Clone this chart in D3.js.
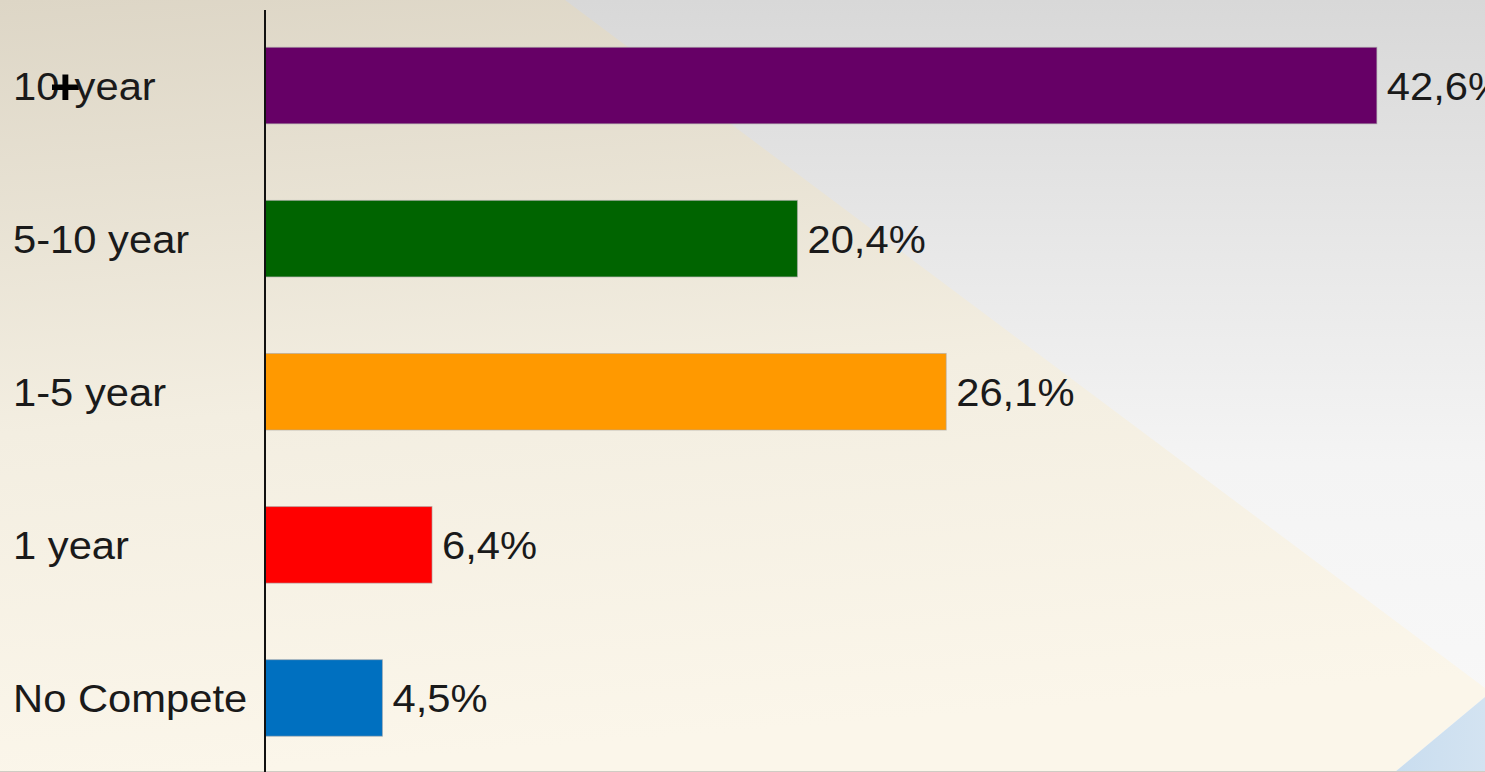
<!DOCTYPE html>
<html><head><meta charset="utf-8">
<script src="https://cdn.jsdelivr.net/npm/d3@7"></script>
<style>html,body{margin:0;padding:0;overflow:hidden;}svg{display:block;}</style>
</head><body>
<svg id="c" width="1485" height="772"></svg>
<script>
const categories = ["10+year", "5-10 year", "1-5 year", "1 year", "No Compete"];
const values = [42.6, 20.4, 26.1, 6.4, 4.5];
const valueLabels = ["42,6%", "20,4%", "26,1%", "6,4%", "4,5%"];
const colors = ["#660066", "#006400", "#FF9900", "#FF0000", "#0070C0"];

const W = 1485, H = 772;
const svg = d3.select("#c");
const defs = svg.append("defs");

const gBeige = defs.append("linearGradient").attr("id","gBeige").attr("x1","0").attr("y1","0").attr("x2","0.15").attr("y2","1");
gBeige.append("stop").attr("offset","0").attr("stop-color","#ddd6c6");
gBeige.append("stop").attr("offset","0.55").attr("stop-color","#f3eee1");
gBeige.append("stop").attr("offset","1").attr("stop-color","#fbf6ea");
const gGray = defs.append("linearGradient").attr("id","gGray").attr("x1","0").attr("y1","0").attr("x2","0").attr("y2","1");
gGray.append("stop").attr("offset","0").attr("stop-color","#d8d8d8");
gGray.append("stop").attr("offset","0.33").attr("stop-color","#e8e8e8");
gGray.append("stop").attr("offset","0.6").attr("stop-color","#f4f4f4");
gGray.append("stop").attr("offset","1").attr("stop-color","#f9f9f9");
const gBlue = defs.append("linearGradient").attr("id","gBlue").attr("x1","0").attr("y1","0").attr("x2","1").attr("y2","0");
gBlue.append("stop").attr("offset","0").attr("stop-color","#c9ddef");
gBlue.append("stop").attr("offset","1").attr("stop-color","#d3e3f1");

svg.append("rect").attr("width",W).attr("height",H).attr("fill","url(#gGray)");
svg.append("path").attr("d",`M0,0 L565,0 L${W},688 L${W},697 L1395,${H} L0,${H} Z`).attr("fill","url(#gBeige)");
svg.append("path").attr("d",`M${W},697 L1395,${H} L${W},${H} Z`).attr("fill","url(#gBlue)");
svg.append("line").attr("x1",0).attr("x2",W).attr("y1",H-0.5).attr("y2",H-0.5).attr("stroke","#d0ccc4").attr("stroke-width",1);

const x = d3.scaleLinear().domain([0, 50]).range([265, 265 + 50*26.1]);
const y = d3.scaleBand().domain(categories).range([9, 774.5]).paddingInner(0.5).paddingOuter(0.25);

const rows = categories.map((c,i)=>({c, v: values[i], lab: valueLabels[i], col: colors[i]}));

svg.append("g").selectAll("rect").data(rows).join("rect")
  .attr("x", x(0)).attr("y", d=>y(d.c))
  .attr("width", d=>x(d.v)-x(0)).attr("height", y.bandwidth())
  .attr("fill", d=>d.col)
  .attr("stroke", "rgba(170,170,170,0.6)").attr("stroke-width", 1);

const sx = 1.07;
const catText = svg.append("g").selectAll("text").data(rows).join("text")
  .attr("transform", d=>`translate(13,${y(d.c)+y.bandwidth()/2}) scale(${sx},1)`)
  .attr("dy","0.36em")
  .attr("font-family","'Liberation Sans', Arial, sans-serif").attr("font-size",39)
  .attr("fill","#1a1a1a");
catText.each(function(d){
  const t = d3.select(this);
  const i = d.c.indexOf("+");
  if (i < 0) { t.text(d.c); return; }
  t.append("tspan").text(d.c.slice(0,i));
  t.append("tspan").attr("dx",-9).attr("dy",4).attr("font-weight","bold").attr("font-size",50).attr("fill","#000").text("+");
  t.append("tspan").attr("dx",-6).attr("dy",-4).text(d.c.slice(i+1));
});

svg.append("g").selectAll("text").data(rows).join("text")
  .attr("transform", d=>`translate(${x(d.v)+10},${y(d.c)+y.bandwidth()/2}) scale(${sx},1)`)
  .attr("dy","0.36em")
  .attr("font-family","'Liberation Sans', Arial, sans-serif").attr("font-size",39)
  .attr("fill","#1a1a1a")
  .text(d=>d.lab);

svg.append("line").attr("x1",265).attr("x2",265).attr("y1",10).attr("y2",H)
  .attr("stroke","#111").attr("stroke-width",2);
</script>
</body></html>
